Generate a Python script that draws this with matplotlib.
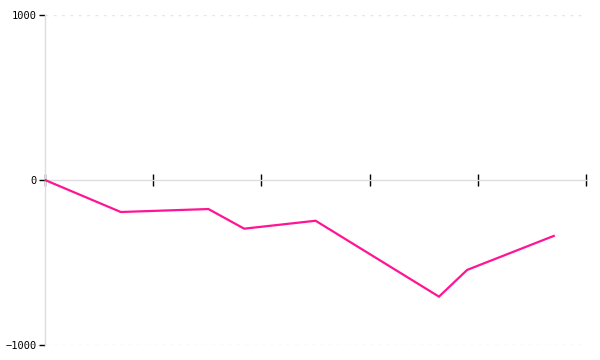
import matplotlib
matplotlib.use("Agg")
import matplotlib.pyplot as plt

# data
x = [0, 0.70, 1.51, 1.84, 2.50, 3.64, 3.90, 4.70]
y = [0, -194, -176, -295, -247, -707, -545, -339]
y_ticks = [-1000, 0, 1000]
x_ticks = [0, 1, 2, 3, 4, 5]

fig = plt.figure(figsize=(6, 3.6), dpi=100)
ax = fig.add_axes([0.075, 0.0417, 0.902, 0.9166])

ax.plot(x, y, color='#ff1493', linewidth=1.6, solid_joinstyle='miter', zorder=3)

ax.set_xlim(0, 5)
ax.set_ylim(-1000, 1000)

# axes look
for s in ['top', 'right']:
    ax.spines[s].set_visible(False)
for s in ['left', 'bottom']:
    ax.spines[s].set_color('#dddddd')
    ax.spines[s].set_linewidth(1)
    ax.spines[s].set_zorder(1)
ax.spines['bottom'].set_position(('data', 0))

ax.set_yticks(y_ticks)
ax.set_yticklabels(['\u22121000', '0', '1000'], fontfamily='DejaVu Sans Mono', fontsize=7.5)
ax.tick_params(axis='y', length=4, width=1, color='black', pad=2)

ax.set_xticks(x_ticks)
ax.set_xticklabels([])
ax.tick_params(axis='x', direction='inout', length=8, width=1, color='black')

# dotted grid only at the top and bottom
ax.yaxis.grid(True, linestyle=(0, (2, 4)), color='#e6e6e6', linewidth=1)
ax.get_ygridlines()[1].set_visible(False)
ax.set_axisbelow(True)

fig.savefig('out.png', dpi=100)
